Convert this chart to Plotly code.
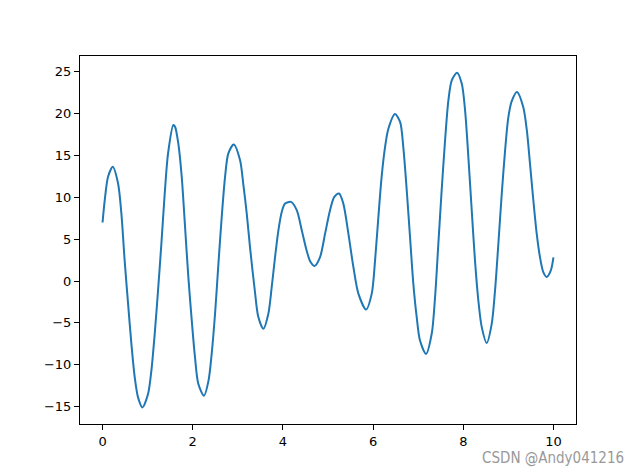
import plotly.graph_objects as go

x_vals = [0.0, 0.049, 0.122, 0.226, 0.344, 0.418, 0.49, 0.566, 0.64, 0.714, 0.787, 0.884,
          1.009, 1.083, 1.157, 1.231, 1.305, 1.379, 1.453, 1.57, 1.608, 1.68, 1.756, 1.83,
          1.903, 1.978, 2.05, 2.125, 2.25, 2.35, 2.42, 2.495, 2.57, 2.643, 2.717, 2.79,
          2.91, 3.05, 3.12, 3.198, 3.27, 3.38, 3.455, 3.567, 3.677, 3.752, 3.826, 3.9,
          3.974, 4.048, 4.18, 4.307, 4.418, 4.529, 4.61, 4.7, 4.824, 4.935, 5.045, 5.14, 5.245,
          5.34, 5.452, 5.563, 5.674, 5.844, 5.97, 6.044, 6.117, 6.192, 6.265, 6.339, 6.485,
          6.6, 6.67, 6.747, 6.82, 6.893, 6.968, 7.04, 7.175, 7.3, 7.374, 7.447, 7.52,
          7.596, 7.67, 7.745, 7.862, 7.966, 8.04, 8.113, 8.188, 8.26, 8.335, 8.41, 8.52,
          8.63, 8.704, 8.778, 8.853, 8.927, 9.0, 9.075, 9.19, 9.33, 9.41, 9.48, 9.555,
          9.63, 9.703, 9.777, 9.85, 9.94, 10.0]
y_vals = [7.0, 9.67, 12.46, 13.65, 11.66, 8.07, 2.48, -2.7, -7.5, -11.5, -13.9, -15.1,
          -13.5, -10.7, -6.3, -1.1, 4.48, 10.47, 15.26, 18.65, 18.44, 16.45, 12.46, 6.47,
          0.48, -4.7, -9.1, -12.3, -13.7, -11.9, -8.7, -3.9, 2.08, 7.66, 12.46, 15.26,
          16.33, 14.45, 11.66, 8.07, 4.07, -1.3, -4.3, -5.7, -3.9, -0.7, 2.87, 6.07,
          8.26, 9.26, 9.46, 8.47, 6.07, 3.6, 2.3, 1.8, 2.87, 5.67, 8.47, 10.06, 10.47,
          9.26, 5.67, 1.68, -1.5, -3.4, -1.5, 2.48, 7.66, 12.6, 16.0, 18.2, 19.96,
          19.0, 16.0, 10.8, 5.2, -0.36, -4.35, -7.1, -8.7, -6.3, -1.95, 4.43, 10.8,
          16.8, 21.6, 24.0, 24.9, 23.6, 20.4, 14.8, 8.43, 2.44, -2.35, -5.5, -7.4,
          -5.15, -1.15, 4.43, 10.4, 15.6, 19.6, 21.5, 22.6, 20.8, 18.0, 14.0, 9.6,
          5.6, 2.8, 1.04, 0.5, 1.25, 2.84]

x_ticks = [0, 2, 4, 6, 8, 10]
y_ticks = [-15, -10, -5, 0, 5, 10, 15, 20, 25]

fig = go.Figure()
fig.add_trace(go.Scatter(x=x_vals, y=y_vals, mode="lines",
                         line=dict(color="#1f77b4", width=2, shape="spline", smoothing=0.8),
                         showlegend=False, hoverinfo="skip"))

axis_common = dict(showgrid=False, zeroline=False, showline=True, linecolor="black",
                   linewidth=1, mirror=True, ticks="outside", ticklen=5, tickwidth=1,
                   tickcolor="black", tickfont=dict(family="DejaVu Sans", size=13, color="black"))

fig.update_xaxes(range=[-0.5, 10.5], tickvals=x_ticks, **axis_common)
fig.update_yaxes(range=[-17.08, 26.9], tickvals=y_ticks, **axis_common)

fig.add_annotation(text="CSDN @Andy041216", xref="paper", yref="paper",
                   x=1.1008, y=-0.0924, xanchor="right", yanchor="middle", showarrow=False,
                   font=dict(family="DejaVu Sans Condensed, DejaVu Sans", size=15, color="#999999"))

fig.update_layout(width=640, height=476, margin=dict(l=80, r=64, t=56, b=52),
                  paper_bgcolor="white", plot_bgcolor="white")

fig.write_html("out.html", config={"displayModeBar": False},
               post_script="document.body.style.margin='0';document.body.style.overflow='hidden';")
